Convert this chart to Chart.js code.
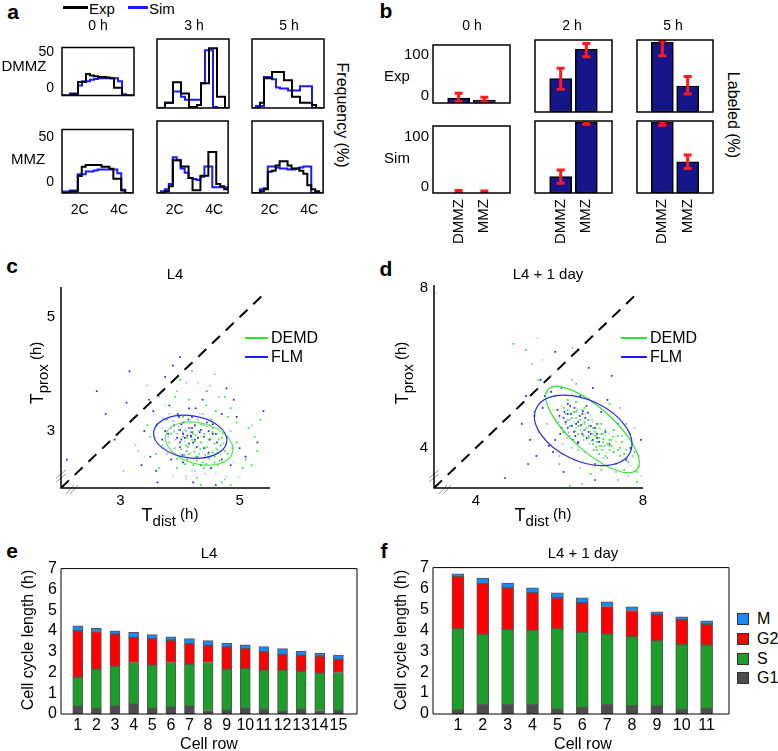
<!DOCTYPE html>
<html>
<head>
<meta charset="utf-8">
<script src="https://cdn.jsdelivr.net/npm/chart.js@4.4.1/dist/chart.umd.min.js"></script>
<style>
  body { margin: 0; background: #fff; }
  #fig { position: relative; width: 778px; height: 751px; overflow: hidden; font-family: "Liberation Sans", Arial, sans-serif; color: #000; }
  #fig canvas { position: absolute; }
  .lbl { position: absolute; white-space: nowrap; line-height: 1; }
  .sw { position: absolute; }
</style>
</head>
<body>
<div id="fig"></div>
<script>
// ---------- data ----------
// panel a: histogram heights (%) on a half-bin grid of 18 steps
const aTimes = ["0 h", "3 h", "5 h"];
const aRows = ["DMMZ", "MMZ"];
const aXTickPos = [4.5, 14.5];
const aXTickLabels = ["2C", "4C"];
const aYTicks = [0, 50];

const expDMMZ_0h = [-10, -10, -8, -8, 9, 9, 20, 18, 17, 16, 16, 15, 14, 1, 1, -10, -10, -10];
const simDMMZ_0h = [-10, -10, -7, -7, 4, 10, 10, 12, 13, 14, 14, 14, 14, 14, 10, -8, -10, -10];
const expDMMZ_3h = [-10, -10, -5, -5, 15, 15, 4, 4, -9, -9, -7, 14, 14, 48, 48, 1, 1, -10];
const simDMMZ_3h = [-10, -10, -5, -5, 6, 6, 1, -2, -2, -2, -2, 14, 46, 46, -9, -10, -10, -10];
const expDMMZ_5h = [-10, -10, -5, 19, 19, 25, 25, 25, 17, 17, 1, 1, -5, -5, -5, -7, -10, -10];
const simDMMZ_5h = [-10, -8, -8, 20, 20, 18, 10, 9, 9, 7, 7, 7, 11, 11, 11, -10, -10, -10];
const expMMZ_0h = [-11.5, -11.5, -10, -10, 7, 17, 19, 19, 19, 19, 17, 17, 15, 4, 4, -9, -11.5, -11.5];
const simMMZ_0h = [-10, -10, -9, -9, 9, 9, 12, 12, 13, 14, 14, 14, 14, 14, 10, -8, -11.5, -11.5];
const expMMZ_3h = [-11.5, -11.5, -10, -5, 20, 20, 14, 14, 3, -9, -9, 5, 5, 28, 28, -3, -5, -8];
const simMMZ_3h = [-11.5, -10, -8, -3, 23, 20, 12, 8, 3, 2, 1, 4, 14, 14, -6, -6, -6, -6];
const expMMZ_5h = [-11.5, -11.5, -10, -8, 9, 10, 15, 19, 19, 15, 12, 12, 10, 7, -4, -8, -10, -11.5];
const simMMZ_5h = [-11.5, -11.5, -8, -7, 14, 14, 13, 12, 12, 11, 11, 12, 13, 14, 14, -11.5, -11.5, -11.5];

// panel b: labeled (%) per time point [DMMZ, MMZ]
const bTimes = ["0 h", "2 h", "5 h"];
const bCats = ["DMMZ", "MMZ"];
const bPos = [1, 2];
const bYTicks = [0, 100];
const bExpVal = [[-5, -10], [48, 105], [118, 33.5]];
const bExpLow = [[-14, -15], [27, 90], [92, 18]];
const bExpHigh = [[6.5, -3], [68, 116], [121, 52]];
const bSimVal = [[-13.1, -13.1], [17.5, 120], [120, 45.6]];
const bSimLow = [[-13, -13], [5, 116], [114, 33]];
const bSimHigh = [[-8, -9], [30, 122], [121, 58]];

// panel c: T_dist vs T_prox, L4
const cTicks = [3, 5];
const cDiag = [[2, 2], [5.4, 5.4]];
const cGreen = [[4.31,2.74],[4.12,2.88],[4.55,2.62],[3.95,2.51],[4.72,2.95],[4.40,3.10],[3.82,2.80],[4.63,2.40],[4.20,2.30],[4.88,2.70],
  [4.05,3.25],[4.48,2.85],[3.70,3.05],[4.95,3.15],[4.27,2.55],[4.60,3.35],[3.88,2.20],[5.10,2.50],[4.35,2.05],[4.15,3.55],
  [4.78,2.20],[3.60,2.60],[5.25,2.90],[4.45,3.70],[3.75,3.45],[4.02,2.68],[4.58,2.78],[4.22,2.95],[4.68,2.58],[4.38,2.45],
  [3.98,3.02],[4.85,3.40],[4.10,2.15],[4.52,3.20],[5.05,2.35],[3.50,2.90],[4.30,3.85],[4.70,2.10],[3.92,3.60],[5.35,3.20],
  [4.18,2.62],[4.42,2.70],[4.65,2.85],[4.25,2.82],[4.50,2.50],[4.08,2.42],[4.80,2.60],[3.85,2.95],[4.33,3.30],[4.95,2.80],
  [3.65,2.35],[5.15,3.05],[4.60,2.25],[4.00,3.90],[4.40,2.35],[3.78,3.20],[4.90,2.45],[4.55,3.05],[4.13,2.72],[4.47,2.60],
  [3.40,2.55],[5.30,2.65],[4.75,3.60],[4.28,2.18],[3.58,3.30],[4.85,2.05],[4.20,4.05],[4.62,2.68],[4.36,2.90],[4.07,2.58],
  [3.95,2.35],[4.73,2.78],[5.00,2.20],[3.72,2.70],[4.44,3.45],[5.20,2.40],[4.16,3.15],[4.58,2.45],[4.80,3.25],[3.45,3.10],
  [4.25,2.70],[4.35,2.80],[4.45,2.72],[4.15,2.60],[4.52,2.88],[4.30,2.55],[4.40,2.95],[4.20,2.85],[4.60,2.70],[4.10,2.75],
  [4.48,2.52],[4.32,3.00],[4.55,2.65],[4.05,2.90],[4.62,2.95],[4.28,2.48],[4.38,2.62],[4.18,2.98],[4.68,2.75],[4.42,2.58],
  [3.90,2.70],[4.75,2.65],[4.22,2.40],[4.50,3.10],[4.00,2.60],[4.58,2.55],[4.34,2.68],[4.26,2.92],[4.46,2.80],[4.12,2.50],
  [4.66,2.48],[4.36,3.12],[4.08,2.82],[4.54,2.98],[4.24,2.64],[4.70,2.88],[3.98,2.78],[4.44,2.42],[4.16,3.05],[4.64,2.62]];
const cBlue = [[4.05,2.98],[3.90,3.10],[4.25,2.85],[3.70,2.75],[4.45,3.15],[3.55,3.35],[4.60,2.60],[4.15,3.40],[3.85,2.50],[4.80,2.90],
  [3.40,3.00],[4.35,2.40],[3.95,3.70],[4.70,3.30],[3.20,3.20],[4.10,2.20],[5.00,2.70],[3.60,2.30],[4.50,3.80],[3.75,3.95],
  [4.90,3.55],[3.30,2.65],[4.20,3.05],[4.00,2.80],[4.30,3.20],[3.80,2.95],[4.55,2.95],[4.12,2.65],[3.98,3.25],[4.40,2.70],
  [3.65,3.60],[4.85,2.40],[3.50,2.55],[4.65,3.60],[3.10,3.50],[4.22,2.10],[5.20,3.10],[3.88,4.15],[4.05,2.45],[4.75,2.15],
  [2.90,2.85],[4.38,3.55],[3.45,3.80],[5.10,2.55],[4.18,2.92],[3.92,2.70],[4.48,3.00],[4.02,3.12],[3.72,3.22],[4.28,2.55],
  [4.62,2.80],[3.58,2.90],[4.95,3.25],[3.35,2.40],[4.42,2.25],[3.82,3.45],[5.30,2.80],[4.10,3.85],[2.75,3.30],[4.70,2.50],
  [3.25,2.75],[4.00,4.30],[2.10,2.50],[4.85,3.00],[3.62,2.10],[4.52,2.35],[4.08,3.02],[3.95,2.88],[4.15,2.78],[3.78,2.60],
  [4.33,2.98],[2.60,3.70],[4.58,4.00],[3.15,4.05],[5.40,3.35],[4.25,2.30],[3.48,3.55],[4.78,3.75],[3.05,2.30],[4.60,2.05],
  [4.05,2.95],[4.10,3.00],[4.00,3.02],[4.12,2.92],[3.95,2.95],[4.15,3.05],[4.08,2.88],[3.98,3.08],[4.20,2.98],[4.02,2.85],
  [3.90,3.00],[4.18,2.90],[4.25,3.10],[3.85,3.05],[4.30,2.88],[4.06,3.15],[3.92,2.85],[4.22,2.80],[4.35,3.02],[3.80,2.90],
  [4.14,3.20],[4.40,2.90],[3.88,3.18],[4.28,2.72],[4.00,2.72],[4.45,3.08],[3.75,3.00],[4.50,2.85],[4.10,2.65],[4.20,3.25],
  [3.96,3.30],[4.32,2.60],[4.55,3.12],[3.70,2.85],[4.38,3.30],[4.04,2.58],[4.60,2.95],[3.82,3.30],[4.26,3.40],[4.48,2.62]];
// ellipses: [centre x, centre y, semi-axis a, semi-axis b, tilt deg]
const cEllipseBlue = [4.17, 2.90, 0.62, 0.37, 8];
const cEllipseGreen = [4.32, 2.78, 0.58, 0.36, 15];

// panel d: L4 + 1 day
const dTicks = [4, 8];
const dDiag = [[3, 3], [7.8, 7.8]];
const dGreen = [[6.90,4.30],[6.50,4.70],[7.20,4.05],[6.10,5.00],[7.50,3.70],[6.70,4.55],[7.05,4.15],[5.90,5.30],[7.70,3.55],[6.35,4.90],
  [6.80,4.10],[7.10,4.45],[6.55,4.40],[7.30,3.90],[6.20,5.20],[7.60,3.95],[6.00,4.75],[6.95,3.85],[6.60,5.00],[7.40,4.30],
  [5.75,5.10],[7.85,3.40],[6.45,4.35],[7.15,3.75],[6.75,4.80],[6.25,4.55],[7.00,4.60],[7.55,3.45],[5.95,5.55],[6.85,4.40],
  [6.40,5.15],[7.25,4.20],[6.65,4.20],[7.45,4.00],[6.15,4.85],[7.75,3.80],[5.85,4.95],[6.90,3.95],[6.50,4.55],[7.35,3.60],
  [6.30,5.35],[7.05,4.35],[6.70,4.25],[7.20,3.95],[6.05,5.05],[7.65,3.65],[6.55,4.95],[7.00,4.05],[6.80,4.65],[7.50,4.15],
  [5.70,5.40],[7.90,3.55],[6.35,4.65],[7.10,3.80],[6.60,4.45],[7.30,4.45],[6.95,4.50],[6.20,4.70],[7.80,3.90],[5.50,5.70],
  [7.95,3.30],[6.45,3.95],[7.40,3.20],[5.20,6.45],[5.60,6.20],[7.70,4.35],[6.10,4.40],[7.85,3.15],[6.85,3.50],[5.40,4.90],
  [6.00,3.60],[7.20,5.10],[5.45,6.75],[6.40,5.60],[7.60,4.60],[6.75,3.35],[5.80,5.80],[7.00,3.45],[4.90,6.60],[6.25,3.05],[3.05,7.88],
  [6.85,4.30],[6.95,4.25],[7.05,4.22],[6.75,4.40],[7.15,4.10],[6.65,4.50],[7.25,4.05],[6.55,4.60],[6.90,4.15],[7.00,4.35],
  [6.80,4.50],[7.10,4.30],[6.70,4.30],[7.20,4.20],[6.60,4.65],[7.30,4.00],[6.50,4.80],[7.40,3.95],[6.45,4.55],[7.35,4.15],
  [6.40,4.90],[7.45,3.80],[6.88,4.02],[6.98,4.48],[6.78,4.18],[7.08,4.05],[6.58,4.30],[7.18,4.35],[6.30,4.75],[7.55,3.85],
  [6.20,4.95],[7.60,3.75],[6.68,4.70],[7.02,3.95],[6.92,4.60],[7.12,3.88],[6.38,4.42],[7.28,4.28],[6.82,3.95],[6.62,4.85]];
const dBlue = [[6.40,4.50],[6.00,4.80],[6.80,4.20],[5.70,4.60],[7.10,4.40],[6.20,5.10],[6.60,3.90],[5.90,4.20],[7.00,4.90],[6.30,4.00],
  [6.90,4.60],[5.60,5.00],[7.30,3.90],[6.50,5.30],[6.10,4.40],[6.70,4.70],[5.80,5.40],[7.20,4.10],[6.35,3.70],[6.05,5.50],
  [7.40,4.60],[5.50,4.40],[6.85,3.60],[6.55,4.85],[6.25,4.30],[6.75,4.35],[5.95,4.95],[7.05,3.75],[6.45,4.15],[6.15,4.65],
  [7.50,4.30],[5.40,4.80],[6.65,5.05],[6.95,4.05],[5.85,3.90],[7.60,3.70],[6.30,5.70],[5.65,5.30],[7.15,5.20],[6.50,3.50],
  [5.30,4.20],[7.70,4.00],[6.00,3.80],[6.80,5.50],[5.75,4.05],[7.35,3.40],[6.20,4.85],[6.60,4.45],[6.40,4.75],[6.90,4.25],
  [5.55,5.70],[7.80,4.50],[5.20,5.30],[6.10,3.40],[7.45,5.00],[5.45,3.80],[6.70,6.00],[7.90,3.80],[5.10,4.60],[6.85,3.20],
  [5.35,6.10],[7.25,5.80],[5.00,5.00],[7.65,3.30],[4.70,3.25],[5.90,6.40],[6.55,3.10],[7.95,4.20],[5.25,3.60],[6.30,6.50],
  [6.40,4.60],[6.30,4.55],[6.50,4.45],[6.35,4.40],[6.45,4.65],[6.25,4.70],[6.55,4.35],[6.20,4.50],[6.60,4.60],[6.38,4.30],
  [6.48,4.80],[6.15,4.60],[6.70,4.40],[6.28,4.85],[6.58,4.20],[6.10,4.75],[6.75,4.55],[6.42,4.95],[6.65,4.25],[6.05,4.50],
  [6.80,4.35],[6.32,4.20],[6.52,4.58],[6.22,4.38],[6.62,4.75],[6.12,4.90],[6.72,4.10],[6.36,5.00],[6.85,4.50],[5.98,4.65],
  [6.44,4.12],[6.90,4.35],[6.18,4.25],[6.56,4.92],[6.02,4.35],[6.78,4.70],[6.26,5.05],[6.95,4.15],[6.08,4.10],[6.68,4.88]];
const dEllipseBlue = [6.57, 4.44, 1.24, 0.76, 25];
const dEllipseGreen = [6.79, 4.46, 1.43, 0.54, 42];

// panels e, f: phase durations (h), stacked G1, S, G2, M
const phaseNames = ["G1", "S", "G2", "M"];
const cellYTicks = [0, 1, 2, 3, 4, 5, 6, 7];
const eRows = [1, 2, 3, 4, 5, 6, 7, 8, 9, 10, 11, 12, 13, 14, 15];
const eG1 = [0.38, 0.27, 0.38, 0.47, 0.27, 0.33, 0.38, 0.17, 0.19, 0.27, 0.22, 0.13, 0.22, 0.17, 0.19];
const eS  = [1.39, 1.89, 1.92, 2.01, 2.08, 2.15, 2.02, 2.31, 1.97, 1.93, 1.89, 1.98, 1.83, 1.80, 1.81];
const eG2 = [2.23, 1.81, 1.55, 1.21, 1.28, 1.07, 0.98, 0.82, 1.07, 0.95, 0.89, 0.76, 0.77, 0.81, 0.63];
const eM  = [0.24, 0.16, 0.15, 0.24, 0.19, 0.17, 0.25, 0.23, 0.19, 0.18, 0.25, 0.28, 0.21, 0.14, 0.21];
const fRows = [1, 2, 3, 4, 5, 6, 7, 8, 9, 10, 11];
const fG1 = [0.19, 0.43, 0.43, 0.43, 0.22, 0.32, 0.43, 0.39, 0.38, 0.22, 0.27];
const fS  = [3.89, 3.39, 3.62, 3.57, 3.86, 3.58, 3.39, 3.31, 3.12, 3.09, 3.03];
const fG2 = [2.50, 2.41, 1.98, 1.79, 1.47, 1.42, 1.32, 1.25, 1.26, 1.20, 0.99];
const fM  = [0.12, 0.27, 0.23, 0.24, 0.24, 0.23, 0.22, 0.18, 0.13, 0.14, 0.16];

// ---------- helpers ----------
Chart.defaults.font.family = '"Liberation Sans", Arial, sans-serif';
Chart.defaults.color = "#000";
const fig = document.getElementById("fig");

const phaseColors = ["#4d4d4d", "#1d9e2b", "#ff0000", "#1a88ff"];

function place(box, m) {
  const cv = document.createElement("canvas");
  const w = box[2] - box[0] + m[0] + m[1];
  const h = box[3] - box[1] + m[2] + m[3];
  cv.width = w;
  cv.height = h;
  Object.assign(cv.style, { left: box[0] - m[0] + "px", top: box[1] - m[2] + "px", width: w + "px", height: h + "px" });
  fig.appendChild(cv);
  return cv;
}

function axis(min, max, pos, labels, size, show, font, pad, extraTicks) {
  return {
    type: "linear", min: min, max: max, offset: false,
    grid: { display: false, drawTicks: false },
    border: { display: false },
    afterBuildTicks: (s) => { s.ticks = pos.map((v) => ({ value: v })); },
    afterFit: (s) => { if (s.isHorizontal()) s.height = size; else s.width = size; },
    ticks: Object.assign({ display: show, autoSkip: false, padding: pad, maxRotation: 0,
      font: { size: font }, callback: (v, i) => String(labels[i]) }, extraTicks || {}),
  };
}

function baseOptions(m, scales, plugins) {
  return {
    responsive: false, animation: false, events: [],
    layout: { padding: { left: 0, right: m[1], top: m[2], bottom: 0 } },
    plugins: Object.assign({ legend: { display: false }, tooltip: { enabled: false } }, plugins),
    scales: scales,
  };
}

function steps(v) {
  return v.map((y, i) => ({ x: i, y: y })).concat([{ x: v.length, y: v[v.length - 1] }]);
}
function pts(list) {
  return list.map((p) => ({ x: p[0], y: p[1] }));
}

// frame round the plot area
const framePlugin = {
  id: "frame",
  afterDatasetsDraw(chart, args, o) {
    const a = chart.chartArea, ctx = chart.ctx;
    ctx.save();
    ctx.strokeStyle = "#000";
    ctx.lineWidth = o.width || 1.5;
    ctx.beginPath();
    if (o.open) {
      ctx.moveTo(a.left, a.top);
      ctx.lineTo(a.left, a.bottom);
      ctx.lineTo(a.right, a.bottom);
    } else {
      ctx.rect(a.left, a.top, a.right - a.left, a.bottom - a.top);
    }
    ctx.stroke();
    ctx.restore();
  },
};

// red error bars for panel b
const errPlugin = {
  id: "errbar",
  afterDatasetsDraw(chart, args, o) {
    if (!o.low) return;
    const { ctx, chartArea: a, scales: { x, y } } = chart;
    ctx.save();
    ctx.beginPath();
    ctx.rect(a.left, a.top, a.right - a.left, a.bottom - a.top);
    ctx.clip();
    ctx.strokeStyle = "#ff1a1a";
    ctx.lineWidth = 3;
    o.pos.forEach((p, i) => {
      const px = x.getPixelForValue(p);
      const y1 = y.getPixelForValue(o.low[i]);
      const y2 = y.getPixelForValue(o.high[i]);
      ctx.beginPath();
      ctx.moveTo(px, y1); ctx.lineTo(px, y2);
      ctx.moveTo(px - 4, y1); ctx.lineTo(px + 4, y1);
      ctx.moveTo(px - 4, y2); ctx.lineTo(px + 4, y2);
      ctx.stroke();
    });
    ctx.restore();
  },
};

// confidence ellipses + axis break marks for c, d
const ellipsePlugin = {
  id: "ellipses",
  afterDatasetsDraw(chart, args, o) {
    const { ctx, chartArea: a, scales: { x, y } } = chart;
    ctx.save();
    (o.list || []).forEach((item) => {
      const e = item.e;
      const cx = x.getPixelForValue(e[0]), cy = y.getPixelForValue(e[1]);
      const rx = Math.abs(x.getPixelForValue(e[0] + e[2]) - cx);
      const ry = Math.abs(y.getPixelForValue(e[1] + e[3]) - cy);
      ctx.beginPath();
      ctx.ellipse(cx, cy, rx, ry, (e[4] * Math.PI) / 180, 0, 2 * Math.PI);
      ctx.strokeStyle = item.color;
      ctx.lineWidth = 1.2;
      ctx.stroke();
    });
    ctx.strokeStyle = "#999";
    ctx.lineWidth = 1;
    ctx.beginPath();
    [10, 14].forEach((d) => {
      ctx.moveTo(a.left - 5, a.bottom - d + 4);
      ctx.lineTo(a.left + 5, a.bottom - d - 4);
      ctx.moveTo(a.left + d - 5, a.bottom + 6);
      ctx.lineTo(a.left + d + 3, a.bottom - 3);
    });
    ctx.stroke();
    ctx.restore();
  },
};

function text(str, x, y, size, o) {
  o = o || {};
  const d = document.createElement("div");
  d.className = "lbl";
  d.innerHTML = str;
  d.style.left = x + "px";
  d.style.top = y + "px";
  d.style.fontSize = size + "px";
  if (o.bold) d.style.fontWeight = "bold";
  d.style.transform = "translate(" + (o.left ? "0" : "-50%") + ",-50%)" + (o.rot ? " rotate(" + o.rot + "deg)" : "");
  fig.appendChild(d);
}
function swatch(x0, y0, w, h, color, border) {
  const d = document.createElement("div");
  d.className = "sw";
  Object.assign(d.style, { left: x0 + "px", top: y0 + "px", width: w + "px", height: h + "px", background: color });
  if (border) d.style.boxSizing = "border-box", d.style.border = "1px solid " + border;
  fig.appendChild(d);
}

// ---------- panel a ----------
const aExp = [[expDMMZ_0h, expDMMZ_3h, expDMMZ_5h], [expMMZ_0h, expMMZ_3h, expMMZ_5h]];
const aSim = [[simDMMZ_0h, simDMMZ_3h, simDMMZ_5h], [simMMZ_0h, simMMZ_3h, simMMZ_5h]];
const aCols = [[62, 134], [157, 229], [252, 324]];
const aRowBox = [[39, 108, -10, 57], [121, 193, -11.6, 58]];

aRowBox.forEach((rb, r) => {
  aCols.forEach((cb, c) => {
    const m = [c === 0 ? 32 : 4, 4, 8, r === 1 ? 28 : 4];
    const cv = place([cb[0], rb[0], cb[1], rb[1]], m);
    new Chart(cv, {
      type: "line",
      data: { datasets: [
        { data: steps(aExp[r][c]), borderColor: "#000", borderWidth: 2, stepped: "before", pointRadius: 0 },
        { data: steps(aSim[r][c]), borderColor: "#1a1aff", borderWidth: 2, stepped: "before", pointRadius: 0 },
      ] },
      options: baseOptions(m, {
        x: axis(0, 18, aXTickPos, aXTickLabels, m[3], r === 1, 14, 9),
        y: axis(rb[2], rb[3], aYTicks, aYTicks, m[0], c === 0, 14, 8),
      }, { frame: { width: 1.5 } }),
      plugins: [framePlugin],
    });
  });
});

// ---------- panel b ----------
const bCols = [[433, 510], [535, 612], [637, 713]];
const bRowBox = [[40, 112, -16.9, 122.7], [121, 193, -13.1, 122]];
const bVals = [bExpVal, bSimVal], bLows = [bExpLow, bSimLow], bHighs = [bExpHigh, bSimHigh];

bRowBox.forEach((rb, r) => {
  bCols.forEach((cb, c) => {
    const m = [c === 0 ? 34 : 4, 4, 8, r === 1 ? 62 : 4];
    const cv = place([cb[0], rb[0], cb[1], rb[1]], m);
    new Chart(cv, {
      type: "bar",
      data: { datasets: [{
        data: bPos.map((p, i) => ({ x: p, y: bVals[r][c][i] })),
        base: rb[2],
        backgroundColor: "#16168a", borderColor: "#000", borderWidth: 1.5, borderSkipped: false, barThickness: 22,
      }] },
      options: baseOptions(m, {
        x: axis(0, 3, bPos, bCats, m[3], r === 1, 15, 6, { minRotation: 90, maxRotation: 90 }),
        y: axis(rb[2], rb[3], bYTicks, bYTicks, m[0], c === 0, 15, 4),
      }, { errbar: { pos: bPos, low: bLows[r][c], high: bHighs[r][c] }, frame: { width: 1.5 } }),
      plugins: [errPlugin, framePlugin],
    });
  });
});

// ---------- panels c, d ----------
function scatterChart(box, m, xr, yr, ticks, green, blue, diag, ellipses) {
  const cv = place(box, m);
  new Chart(cv, {
    type: "scatter",
    data: { datasets: [
      { data: pts(green), pointStyle: "rect", pointRadius: 1.2, borderWidth: 0,
        backgroundColor: (ctx) => (ctx.dataIndex % 4 === 0 ? "#a6f5a6" : "#2ee62e") },
      { data: pts(blue), pointStyle: "rect", pointRadius: 1.2, borderWidth: 0,
        backgroundColor: (ctx) => (ctx.dataIndex % 3 === 0 ? "#aaaaff" : "#1f1fe6") },
      { data: pts(diag), showLine: true, borderColor: "#000", borderWidth: 2, borderDash: [11, 8], pointRadius: 0 },
    ] },
    options: baseOptions(m, {
      x: axis(xr[0], xr[1], ticks, ticks, m[3], true, 15, 4),
      y: axis(yr[0], yr[1], ticks, ticks, m[0], true, 15, 6),
    }, { ellipses: { list: ellipses }, frame: { width: 1.5, open: true } }),
    plugins: [ellipsePlugin, framePlugin],
  });
}
scatterChart([61, 280, 270, 488], [30, 10, 8, 24], [2, 5.51], [2, 5.53], cTicks, cGreen, cBlue, cDiag,
  [{ e: cEllipseGreen, color: "rgba(46,230,46,0.8)" }, { e: cEllipseBlue, color: "#2a2ae6" }]);
scatterChart([434, 280, 643, 488], [30, 12, 10, 24], [3, 8], [3, 8.07], dTicks, dGreen, dBlue, dDiag,
  [{ e: dEllipseGreen, color: "#2ee62e" }, { e: dEllipseBlue, color: "#2a2ae6" }]);

// ---------- panels e, f ----------
function cellChart(box, m, rows, phases, xr, thick) {
  const cv = place(box, m);
  new Chart(cv, {
    type: "bar",
    data: { datasets: phases.map((vals, k) => ({
      label: phaseNames[k],
      data: rows.map((r, i) => ({ x: r, y: vals[i] })),
      backgroundColor: phaseColors[k], borderColor: "#555", borderWidth: 1, borderSkipped: false, barThickness: thick,
    })) },
    options: baseOptions(m, {
      x: Object.assign(axis(xr[0], xr[1], rows, rows, m[3], true, 16, 2), { stacked: true }),
      y: Object.assign(axis(0, 7, cellYTicks, cellYTicks, m[0], true, 16, 4), { stacked: true }),
    }, { frame: { width: 1 } }),
    plugins: [framePlugin],
  });
}
cellChart([61, 567, 357, 714], [30, 6, 12, 24], eRows, [eG1, eS, eG2, eM], [0.1, 16], 10);
cellChart([433, 566, 729, 714], [30, 6, 12, 24], fRows, [fG1, fS, fG2, fM], [0, 11.9], 12);

// ---------- text ----------
text("a", 13, 11, 21, { bold: true });
text("b", 386, 10, 21, { bold: true });
text("c", 12, 265, 21, { bold: true });
text("d", 386, 268, 21, { bold: true });
text("e", 12, 550, 21, { bold: true });
text("f", 384, 550, 21, { bold: true });

swatch(63, 6, 25, 3, "#000");
text("Exp", 89, 8, 15, { left: true });
swatch(128, 6, 20, 3, "#1a1aff");
text("Sim", 149, 8, 15, { left: true });
aTimes.forEach((t, i) => text(t, [98, 194, 289][i], 25, 14));
text(aRows[0], 24, 65, 15);
text(aRows[1], 28, 158, 15);
text("Frequency (%)", 342, 115, 16, { rot: 90 });

bTimes.forEach((t, i) => text(t, [472, 572, 673][i], 25, 14));
text("Exp", 397, 75, 15);
text("Sim", 397, 157, 15);
text("Labeled (%)", 733, 115, 16, { rot: 90 });

const tSub = (s) => '<span style="font-size:18px">T</span><span style="font-size:15px;position:relative;top:5px">' + s +
  '</span> <span style="font-size:15px;position:relative;top:-2px">(h)</span>';
text("L4", 175, 273, 15);
text(tSub("dist"), 170, 515, 15);
text(tSub("prox"), 37, 373, 15, { rot: -90 });
swatch(245, 337, 23, 2, "#2ee62e");
text("DEMD", 271, 338, 16, { left: true });
swatch(245, 356, 23, 2, "#1a1aff");
text("FLM", 271, 357, 16, { left: true });

text("L4 + 1 day", 548, 273, 15);
text(tSub("dist"), 543, 515, 15);
text(tSub("prox"), 402, 373, 15, { rot: -90 });
swatch(621, 337, 26, 2, "#2ee62e");
text("DEMD", 650, 338, 16, { left: true });
swatch(621, 356, 26, 2, "#1a1aff");
text("FLM", 650, 357, 16, { left: true });

text("L4", 209, 552, 15);
text("Cell cycle length (h)", 28, 640, 16, { rot: -90 });
text("Cell row", 209, 744, 16);
text("L4 + 1 day", 583, 552, 15);
text("Cell cycle length (h)", 401, 640, 16, { rot: -90 });
text("Cell row", 583, 744, 16);

// legend for f, top entry is the last phase
[3, 2, 1, 0].forEach((k, i) => {
  const cy = [619, 639, 659, 677.5][i];
  swatch(737, cy - 6, 12, 12, phaseColors[k], "#333");
  text(phaseNames[k], 757, cy, 16, { left: true });
});
</script>
</body>
</html>
